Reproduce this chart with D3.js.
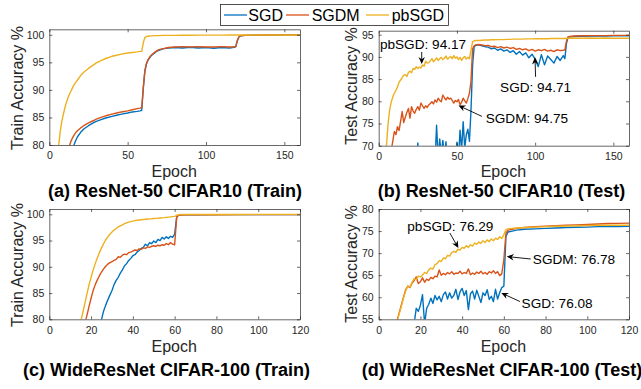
<!DOCTYPE html>
<html><head><meta charset="utf-8">
<script src="https://cdn.jsdelivr.net/npm/d3@7"></script>
<style>body{margin:0;background:#fff} svg{display:block} text{font-family:"Liberation Sans",Arial,Helvetica,sans-serif}</style>
</head><body><svg id="c" width="641" height="389"></svg>
<script>
// ---------- DATA ----------
const seriesNames = ["SGD", "SGDM", "pbSGD"];

// (a) ResNet-50 CIFAR10 (Train)
const epochsA = [0,2,4,6,7,8,9,10,11,12,13,14,15,16,17,18,20,22,25,28,30,33,36,40,43,46,50,53,56,58,59,60,61,62,63,65,68,70,73,76,80,85,90,95,100,105,110,115,118,119,120,121,122,125,130,140,150,160];
const sgdA = [50,56,62,66, 68,70,71.5,73,74.5,75.8,77,78.2,79.3,80.2,80.9,81.5, 82.3,82.9,83.5,84.0,84.3, 84.6,84.9,85.2,85.4,85.6,85.8,86.0,86.1,86.2,86.3, 90.3,93.4,94.7,95.4,96.2,96.9,97.2,97.5,97.6,97.7, 97.6,97.75,97.6,97.7,97.55,97.7,97.6,97.75,97.8, 98.9,99.6,99.8,99.9,99.95,99.97,99.98,99.98];
const sgdmA = [55,60,65,70, 72,73.5,75,76.5,77.8,79,80,80.8,81.4,81.9,82.3,82.6, 83.1,83.5,84.0,84.4,84.7, 85.0,85.3,85.6,85.8,86.0,86.2,86.4,86.6,86.7,86.8, 90.5,93.5,94.8,95.5,96.3,97.0,97.3,97.5,97.7,97.8, 97.85,97.8,97.85,97.8,97.8,97.85,97.8,97.8,97.9, 99.0,99.6,99.8,99.9,99.95,99.97,99.98,99.98];
const pbsgdA = [60,68,74,80, 82.5,84.3,85.6,86.8,87.8,88.6,89.3,89.9,90.5,91,91.4,91.8, 92.6,93.2,93.9,94.5,94.9, 95.3,95.7,96.1,96.3,96.5,96.7,96.8,96.9,97.0,97.0, 98.6,99.5,99.7,99.75,99.8,99.85,99.85,99.9,99.9,99.9, 99.92,99.93,99.94,99.95,99.95,99.95,99.96,99.96,99.96, 99.96,99.96,99.97,99.97,99.97,99.97,99.97,99.97];

// (b) ResNet-50 CIFAR10 (Test)
const epochsB = [0,2,
 4,5,6,7,8,9,10,11,12,13,
 14,15,16,17,18,19,20,21,22,23,
 24,25,26,27,28,29,30,31,32,33,
 34,35,36,37,38,39,40,41,42,43,
 44,45,46,47,48,49,50,51,52,53,
 54,55,56,57,58,59,60,61,62,
 64,66,68,70,72,74,76,78,80,82,84,86,88,90,92,94,96,98,100,102,104,106,108,110,112,114,116,118,
 119,120,121,122,
 125,130,135,140,145,150,155,160];
const sgdB = [40,45,
 50,52,54,55,57,58,59,60,61,62,
 61,63,62,64,63,65,64,66,65,64,
 66,70.6,67,66,68,67,68.5,66,69,67.5,
 68,66,66.5,74.6,67,71.5,68,71.2,67.5,70.9,
 66,68,65,67,69.5,66,70.8,67,73.5,69,
 75.4,69.5,72.5,73.7,71,78,88,92.3,92.6,
 92.7,92.5,92.3,92.2,91.8,92.0,91.5,91.8,91.3,91.6,91.0,91.4,90.6,91.2,90.4,90.9,89.8,90.6,89.5,87.8,90.5,88.2,90.2,89.4,88.6,90.1,89.2,90.3,
 89.6,93.0,94.4,94.5,
 94.6,94.65,94.7,94.7,94.7,94.75,94.75,94.75];
const sgdmB = [50,56,
 61,63,65,67,69,71,73.2,72.5,74.3,73.4,
 75.5,77.7,75.2,76.4,77.5,78.4,76.2,78.8,77.8,77.3,
 78.2,78.8,78.0,79.6,79.0,78.4,79.0,78.6,79.2,79.5,
 79.9,79.4,80.3,79.8,80.7,80.2,79.9,81.4,80.8,80.3,
 80.9,80.5,80.7,80.2,79.6,80.2,79.9,80.4,79.2,79.8,
 80.7,80.1,79.6,80.6,81.8,84.5,91.8,92.5,92.7,
 92.8,92.7,92.5,92.6,92.3,92.4,92.1,92.3,92.0,92.2,91.9,92.1,91.7,91.9,91.6,91.8,91.4,91.7,91.3,91.6,91.4,91.7,91.3,91.5,91.2,91.6,91.4,91.5,
 91.6,93.5,94.5,94.6,
 94.7,94.75,94.8,94.8,94.8,94.85,94.85,94.85];
const pbsgdB = [50,60,
 67,70.2,75,78,79.8,81,81.8,82.5,83.2,84.3,
 84.8,85.3,85.9,86.0,85.6,86.5,86.8,86.4,87.4,87.2,
 87.8,87.4,87.7,87.5,88.2,87.9,89.0,88.6,88.7,89.1,
 89.6,88.9,89.3,89.8,89.2,89.6,89.9,89.4,89.7,90.2,
 89.5,89.8,90.1,89.6,90.3,89.7,90.0,89.4,89.9,89.2,
 89.8,90.1,89.5,89.9,89.6,91.5,93.4,93.6,93.7,
 93.7,93.75,93.8,93.8,93.85,93.85,93.9,93.9,93.9,93.95,93.95,94.0,94.0,94.0,94.0,94.05,94.05,94.05,94.1,94.1,94.1,94.1,94.1,94.15,94.15,94.15,94.15,94.15,
 94.15,94.2,94.2,94.2,
 94.2,94.2,94.25,94.2,94.25,94.2,94.2,94.2];

// (c) WideResNet CIFAR-100 (Train)
const epochsC = [0,5,10,
 14,15,16,17,18,19,20,21,22,23,
 24,25,26,27,28,29,30,31,32,33,
 34,35,36,37,38,39,40,41,42,43,
 44,45,46,47,48,49,50,51,52,53,
 54,55,56,57,58,59,60,61,62,63,
 65,70,80,90,100,110,120];
const sgdC = [30,40,50,
 56,58,60,62,64,66,68,70.5,73,75.5,
 78,80.0,81.6,82.7,83.7,84.6,85.5,86.6,87.4,88.0,
 88.8,89.4,90.2,90.6,91.2,91.6,92.1,92.3,92.8,93.1,
 93.5,93.7,94.3,94.0,94.6,94.4,94.9,94.6,95.2,95.0,
 95.6,95.3,95.7,95.4,95.8,95.6,96.2,99.6,99.85,99.9,
 99.9,99.9,99.92,99.92,99.92,99.93,99.93];
const sgdmC = [40,52,64,
 73,75.5,77.5,79.2,80.7,82.4,84.0,85.5,86.6,87.5,
 88.3,89.0,89.6,90.1,90.5,90.8,91.0,91.2,91.4,91.9,
 91.8,92.2,92.4,92.3,92.7,92.8,93.0,93.2,93.1,93.4,
 93.3,93.6,93.5,93.8,93.7,93.9,94.0,93.9,94.1,94.0,
 94.2,94.1,94.4,94.2,94.6,94.3,94.2,99.5,99.8,99.85,
 99.9,99.9,99.9,99.92,99.92,99.92,99.92];
const pbsgdC = [40,55,68,
 77.5,79.5,81.2,83,84.8,86.5,88,89.4,90.6,91.7,
 92.7,93.6,94.4,95.1,95.7,96.2,96.6,97.0,97.3,97.6,
 97.8,98.0,98.2,98.35,98.5,98.6,98.7,98.8,98.85,98.9,
 98.95,99.0,99.05,99.1,99.12,99.15,99.2,99.22,99.25,99.3,
 99.32,99.35,99.4,99.45,99.5,99.55,99.6,99.8,99.9,99.95,
 99.95,99.96,99.96,99.96,99.97,99.97,99.97];

// (d) WideResNet CIFAR-100 (Test)
const epochsD = [0,5,8,
 9,10,11,12,13,14,15,16,17,18,
 19,20,21,22,23,24,25,26,27,28,
 29,30,31,32,33,34,35,36,37,38,
 39,40,41,42,43,44,45,46,47,48,
 49,50,51,52,53,54,55,56,57,58,
 59,60,61,62,
 64,66,70,75,80,85,90,95,100,105,110,115,120];
const sgdD = [20,35,40,
 42,44,45.5,47,48,49.5,50.5,52,54,57.5,
 56.8,58.2,60.6,54,57.5,58.4,59.8,58.6,60.4,59.4,
 60.2,59.0,60.6,61.2,59.6,61.0,59.8,60.4,61.8,59.5,
 61.2,62.0,60.4,61.5,57.2,60.8,61.4,59.6,61.6,60.2,
 58.8,61.0,60.4,61.7,59.5,60.2,59.0,61.8,59.6,61.0,
 62.2,62.5,73.8,74.8,
 75.0,75.2,75.4,75.5,75.6,75.7,75.8,75.85,75.9,76.0,76.0,76.05,76.1];
const sgdmD = [30,45,52,
 55,56.8,58.5,60.2,61.8,62.5,62.2,63.2,63.8,64.6,
 63.1,63.5,64.4,63.4,64.1,63.8,64.5,64.2,64.8,64.6,
 66.2,65.0,65.4,65.1,65.6,65.3,65.8,65.2,65.5,65.4,
 65.9,65.3,65.6,65.4,66.4,65.1,65.5,65.2,65.7,65.4,
 65.9,65.3,65.6,65.2,65.8,65.5,66.0,65.4,65.8,64.9,
 65.3,68.5,74.5,75.2,
 75.4,75.6,75.8,76.0,76.1,76.2,76.3,76.4,76.5,76.6,76.7,76.75,76.8];
const pbsgdD = [30,45,52,
 54.8,56.5,58.2,60,61.5,62.6,62.3,63.4,64.2,64.0,
 64.8,64.6,65.0,65.6,65.4,66.2,66.6,66.4,67.4,67.6,
 68.3,68.1,68.9,68.7,69.5,69.3,70.1,70.4,70.2,70.9,
 70.7,71.3,71.1,71.7,71.3,71.9,71.6,72.3,72.0,72.5,
 72.2,72.8,72.4,73.0,72.6,73.2,72.8,73.4,73.1,73.7,
 73.3,74.2,75.3,75.5,
 75.6,75.7,75.8,75.9,76.0,76.1,76.15,76.2,76.25,76.3,76.3,76.3,76.3];

// tick labels
const xTicks160 = [0, 50, 100, 150];
const xTicks120 = [0, 20, 40, 60, 80, 100, 120];
const yTicksTrain = [80, 85, 90, 95, 100];
const yTicksTestB = [70, 75, 80, 85, 90, 95];
const yTicksTestD = [55, 60, 65, 70, 75, 80];

// final-accuracy annotations (text, arrow tail/tip and text anchor in data coords)
const annotB = [
  {text: "pbSGD: 94.17", tx: 0.8, ty: 92.8, tail: [27.5, 91.1], tip: [27.5, 88.4]},
  {text: "SGD: 94.71",   tx: 77.6, ty: 83.2, tail: [100.3, 85.5], tip: [99.9, 89.9]},
  {text: "SGDM: 94.75",  tx: 68.4, ty: 76.2, tail: [66.0, 76.6], tip: [51.0, 79.05]}
];
const annotD = [
  {text: "pbSGD: 76.29", tx: 13.7, ty: 76.15, tail: [34.1, 74.56], tip: [38.2, 71.16]},
  {text: "SGDM: 76.78",  tx: 73.9, ty: 68.67, tail: [72.9, 68.67], tip: [61.4, 69.23]},
  {text: "SGD: 76.08",   tx: 68.5, ty: 58.54, tail: [67.7, 59.03], tip: [58.8, 60.96]}
];

// ---------- LAYOUT / STYLE ----------
const colors = ["#0072BD", "#D95319", "#EDB120"];
const axisColor = "#262626";
const svg = d3.select("#c");

const panels = [
  {id: "a", epochs: epochsA, series: [sgdA, sgdmA, pbsgdA], xDom: [0,160], yDom: [80,101], xTicks: xTicks160, yTicks: yTicksTrain,
   left: 49.3, right: 300, top: 29.3, bottom: 145, ylabel: "Train Accuracy %", ylx: 17, yly: 88,
   epochY: 176.8, title: "(a) ResNet-50 CIFAR10 (Train)", titleX: 175, titleY: 196.6, annots: []},
  {id: "b", epochs: epochsB, series: [sgdB, sgdmB, pbsgdB], xDom: [0,160], yDom: [70,95.9], xTicks: xTicks160, yTicks: yTicksTestB,
   left: 378.7, right: 629, top: 30.7, bottom: 145.7, ylabel: "Test Accuracy %", ylx: 351.7, yly: 86,
   epochY: 176.8, title: "(b) ResNet-50 CIFAR10 (Test)", titleX: 501.5, titleY: 196.6, annots: annotB},
  {id: "c", epochs: epochsC, series: [sgdC, sgdmC, pbsgdC], xDom: [0,120], yDom: [80,101], xTicks: xTicks120, yTicks: yTicksTrain,
   left: 49.3, right: 300, top: 209, bottom: 319.3, ylabel: "Train Accuracy %", ylx: 17, yly: 265,
   epochY: 352.2, title: "(c) WideResNet CIFAR-100 (Train)", titleX: 166.5, titleY: 376.2, annots: []},
  {id: "d", epochs: epochsD, series: [sgdD, sgdmD, pbsgdD], xDom: [0,120], yDom: [55,80], xTicks: xTicks120, yTicks: yTicksTestD,
   left: 378.7, right: 629, top: 209, bottom: 319.3, ylabel: "Test Accuracy %", ylx: 351.7, yly: 264,
   epochY: 352.2, title: "(d) WideResNet CIFAR-100 (Test)", titleX: 502, titleY: 376.2, annots: annotD}
];

function arrowHead(g, x1, y1, x2, y2) {
  const ang = Math.atan2(y2 - y1, x2 - x1);
  const L = 7, W = 3.2, N = 2.2;
  const pt = (d, w) => [x2 - d * Math.cos(ang) - w * Math.sin(ang), y2 - d * Math.sin(ang) + w * Math.cos(ang)];
  const p = [[x2, y2], pt(L, W), pt(L - N, 0), pt(L, -W)];
  g.append("path").attr("d", "M" + p.map(q => q.join(",")).join("L") + "Z").attr("fill", "#000");
}

panels.forEach(p => {
  const x = d3.scaleLinear().domain(p.xDom).range([p.left, p.right]);
  const y = d3.scaleLinear().domain(p.yDom).range([p.bottom, p.top]);

  svg.append("clipPath").attr("id", "clip" + p.id).append("rect")
    .attr("x", p.left).attr("y", p.top).attr("width", p.right - p.left).attr("height", p.bottom - p.top);

  const g = svg.append("g").attr("clip-path", `url(#clip${p.id})`);
  const line = d3.line().x(d => x(d[0])).y(d => y(d[1])).defined(d => d[1] != null);
  p.series.forEach((vals, i) => {
    const pts = p.epochs.map((e, j) => [e, vals[j]]);
    g.append("path").attr("d", line(pts)).attr("fill", "none")
      .attr("stroke", colors[i]).attr("stroke-width", 1.4).attr("stroke-linejoin", "round");
  });

  const ax = svg.append("g");
  ax.append("g").attr("transform", `translate(0,${p.bottom})`)
    .call(d3.axisBottom(x).tickValues(p.xTicks).tickSize(-3).tickSizeOuter(0).tickPadding(6.8));
  ax.append("g").attr("transform", `translate(0,${p.top})`)
    .call(d3.axisTop(x).tickValues(p.xTicks).tickSize(-3).tickSizeOuter(0).tickFormat(""));
  ax.append("g").attr("transform", `translate(${p.left},0)`)
    .call(d3.axisLeft(y).tickValues(p.yTicks).tickSize(-3).tickSizeOuter(0).tickPadding(5));
  ax.append("g").attr("transform", `translate(${p.right},0)`)
    .call(d3.axisRight(y).tickValues(p.yTicks).tickSize(-3).tickSizeOuter(0).tickFormat(""));
  ax.selectAll("path.domain, .tick line").attr("stroke", axisColor).attr("stroke-width", 0.7);
  ax.selectAll(".tick text").attr("fill", axisColor).attr("font-size", 10.5)
    .attr("font-family", '"Liberation Sans", Arial, Helvetica, sans-serif');

  // axis labels
  svg.append("text").attr("x", (p.left + p.right) / 2 - 0.5).attr("y", p.epochY)
    .attr("text-anchor", "middle").attr("font-size", 16).attr("fill", axisColor).text("Epoch");
  svg.append("text").attr("transform", `translate(${p.ylx},${p.yly}) rotate(-90)`)
    .attr("dy", "0.35em").attr("text-anchor", "middle").attr("font-size", 16).attr("fill", axisColor).text(p.ylabel);
  // caption
  svg.append("text").attr("x", p.titleX).attr("y", p.titleY).attr("text-anchor", "middle")
    .attr("font-size", 18).attr("font-weight", "bold").attr("fill", "#000").text(p.title);

  // annotations
  const an = svg.append("g");
  p.annots.forEach(a => {
    an.append("text").attr("x", x(a.tx)).attr("y", y(a.ty)).attr("dy", "0.35em")
      .attr("font-size", 13.6).attr("fill", "#000").text(a.text);
    const x1 = x(a.tail[0]), y1 = y(a.tail[1]), x2 = x(a.tip[0]), y2 = y(a.tip[1]);
    const ang = Math.atan2(y2 - y1, x2 - x1);
    an.append("line").attr("x1", x1).attr("y1", y1)
      .attr("x2", x2 - 4 * Math.cos(ang)).attr("y2", y2 - 4 * Math.sin(ang))
      .attr("stroke", "#000").attr("stroke-width", 0.9);
    arrowHead(an, x1, y1, x2, y2);
  });
});

// legend
const leg = svg.append("g");
leg.append("rect").attr("x", 220.5).attr("y", 4.5).attr("width", 228).attr("height", 21)
  .attr("fill", "#fff").attr("stroke", axisColor).attr("stroke-width", 0.8);
const legLineX = [224, 286, 366];
const legTextX = [248.3, 311.7, 391.7];
seriesNames.forEach((n, i) => {
  leg.append("line").attr("x1", legLineX[i]).attr("x2", legLineX[i] + 23).attr("y1", 15).attr("y2", 15)
    .attr("stroke", colors[i]).attr("stroke-width", 1.3);
  leg.append("text").attr("x", legTextX[i]).attr("y", 15).attr("dy", "0.35em")
    .attr("font-size", 16).attr("fill", "#000").text(n);
});
</script></body></html>
